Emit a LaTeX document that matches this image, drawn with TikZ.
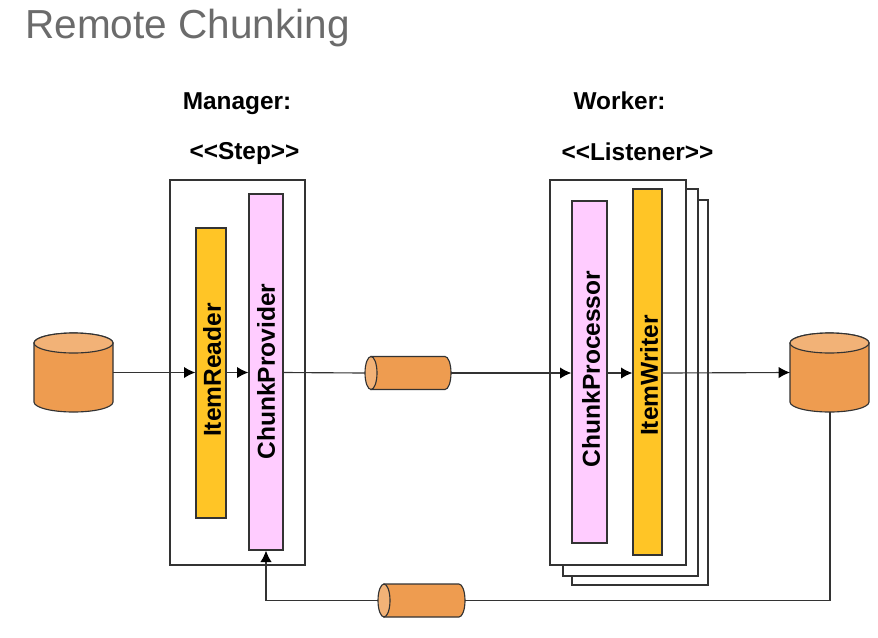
\documentclass[tikz,border=0pt]{standalone}
\usepackage{fontspec}
\setmainfont{Liberation Sans}
\usetikzlibrary{arrows.meta}
\definecolor{orangeA}{HTML}{EE9C50}
\definecolor{orangeB}{HTML}{F2B277}
\definecolor{pinkA}{HTML}{FFCCFF}
\definecolor{yellowA}{HTML}{FFC526}
\definecolor{lineA}{HTML}{333333}
\tikzset{
  x=0.75pt,y=-0.75pt,
  conn/.style={draw=lineA,line width=0.85pt},
  flow/.style={conn,-{Latex[length=8.5pt,width=8.5pt,black]}},
  frame/.style={draw=lineA,line width=1pt,fill=white,inner sep=0pt},
  bar/.style={draw=lineA,line width=1pt,inner sep=0pt},
  vtext/.style={font=\fontsize{18.4}{18.4}\selectfont\bfseries,rotate=90,text=black},
  lbl/.style={font=\fontsize{18.3}{20}\selectfont\bfseries,text=black,inner sep=0pt,anchor=base},
  edgeline/.style={draw=lineA,line width=0.85pt},
}
\begin{document}
\begin{tikzpicture}
\useasboundingbox (0,0) rectangle (878,637);
\fill[white] (0,0) rectangle (878,637);
\node[anchor=base west,inner sep=0pt,text=black!58,font=\fontsize{30.4}{32}\selectfont] (title) at (25,38) {Remote Chunking};
\node[lbl] (mgr) at (237,109) {Manager:};
\node[lbl] (stp) at (244.5,159) {<{}<Step>{}>};
\node[lbl] (wkr) at (619.5,109) {Worker:};
\node[lbl] (lst) at (637.5,160) {<{}<Listener>{}>};

\node[frame,minimum width=136*0.75pt,minimum height=385*0.75pt] (wk3) at (640,392.5) {};
\node[frame,minimum width=135*0.75pt,minimum height=387*0.75pt] (wk2) at (630.5,382.5) {};
\node[frame,minimum width=136*0.75pt,minimum height=385*0.75pt] (wk1) at (618,372.5) {};
\node[frame,minimum width=135*0.75pt,minimum height=385*0.75pt] (mgrbox) at (237.5,372.5) {};

\node[bar,fill=yellowA,minimum width=30*0.75pt,minimum height=290*0.75pt] (reader) at (211,373) {};
\node[bar,fill=pinkA,minimum width=34*0.75pt,minimum height=356*0.75pt] (provider) at (266,372) {};
\node[bar,fill=pinkA,minimum width=35*0.75pt,minimum height=342*0.75pt] (processor) at (589.5,372) {};
\node[bar,fill=yellowA,minimum width=29*0.75pt,minimum height=366*0.75pt] (writer) at (647.5,372) {};
\node[vtext] (readerT) at (212,370) {ItemReader};
\node[vtext] (providerT) at (266,371.5) {ChunkProvider};
\node[vtext] (processorT) at (591,369) {ChunkProcessor};
\node[vtext] (writerT) at (649,375.5) {ItemWriter};

% cylinders
\coordinate (srcE) at (113,372.5);
\coordinate (dstW) at (790,372.5);
\coordinate (dstS) at (830,412);
\foreach \cx in {73.5,829.5}{
  \filldraw[fill=orangeA,edgeline] (\cx-39.5,343) -- (\cx-39.5,402) arc[start angle=180,end angle=0,x radius=39.5,y radius=10] -- (\cx+39.5,343) arc[start angle=0,end angle=-180,x radius=39.5,y radius=10] -- cycle;
  \filldraw[fill=orangeB,edgeline] (\cx,343) ellipse[x radius=39.5,y radius=10];
}
% tubes
\coordinate (t1W) at (365,373);
\coordinate (t1E) at (451,373);
\coordinate (t2W) at (378,600.5);
\coordinate (t2E) at (465,600.5);
\filldraw[fill=orangeA,edgeline] (371,356.5) -- (445,356.5) arc[start angle=-90,end angle=90,x radius=6,y radius=16.5] -- (371,389.5) -- cycle;
\filldraw[fill=orangeB,edgeline] (371,373) ellipse[x radius=6,y radius=16.5];
\filldraw[fill=orangeA,edgeline] (384,584) -- (459,584) arc[start angle=-90,end angle=90,x radius=6,y radius=16.5] -- (384,617) -- cycle;
\filldraw[fill=orangeB,edgeline] (384,600.5) ellipse[x radius=6,y radius=16.5];

% connectors
\draw[flow] (srcE) -- (srcE -| reader.west);
\draw[flow] (srcE -| reader.east) -- (srcE -| provider.west);
\draw[conn] (srcE -| provider.east) -- (t1W);
\draw[flow] (t1E) -- (t1E -| processor.west);
\draw[flow] (t1E -| processor.east) -- (t1E -| writer.west);
\draw[flow] (t1E -| writer.east) -- (dstW);
\draw[conn] (dstS) |- (t2E);
\draw[flow] (t2W) -| (provider.south);
\end{tikzpicture}
\end{document}
